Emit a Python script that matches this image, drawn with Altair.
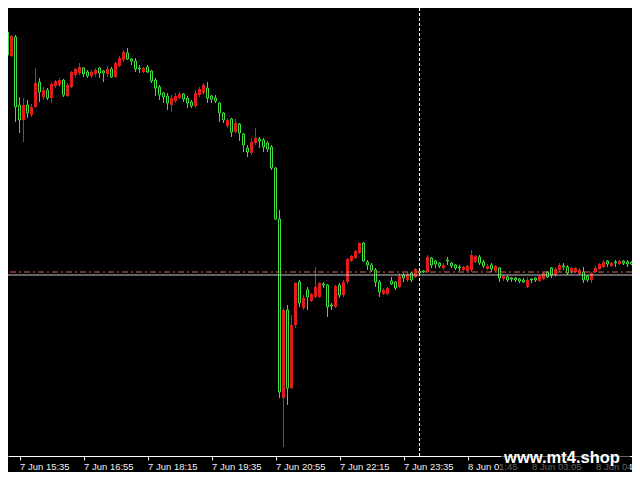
import json
import altair as alt
import pandas as pd

# OHLC of the 5-minute bars (oldest first)
OPEN = [1.14460, 1.14468, 1.14444, 1.14463, 1.14395, 1.14380, 1.14395, 1.14385, 1.14393, 1.14418,
        1.14403, 1.14410, 1.14402, 1.14414, 1.14415, 1.14420, 1.14404, 1.14413, 1.14425, 1.14427,
        1.14432, 1.14428, 1.14424, 1.14426, 1.14432, 1.14429, 1.14426, 1.14431, 1.14423, 1.14434,
        1.14440, 1.14447, 1.14441, 1.14439, 1.14432, 1.14428, 1.14433, 1.14429, 1.14420, 1.14413,
        1.14407, 1.14404, 1.14395, 1.14399, 1.14402, 1.14406, 1.14402, 1.14398, 1.14394, 1.14405,
        1.14407, 1.14412, 1.14404, 1.14402, 1.14397, 1.14387, 1.14374, 1.14381, 1.14368, 1.14376,
        1.14366, 1.14352, 1.14347, 1.14357, 1.14361, 1.14360, 1.14357, 1.14353, 1.14332, 1.14281,
        1.14102, 1.14190, 1.14112, 1.14175, 1.14218, 1.14192, 1.14210, 1.14199, 1.14203, 1.14203,
        1.14216, 1.14215, 1.14195, 1.14193, 1.14215, 1.14205, 1.14218, 1.14239, 1.14242, 1.14247,
        1.14257, 1.14238, 1.14235, 1.14230, 1.14218, 1.14206, 1.14206, 1.14219, 1.14218, 1.14213,
        1.14225, 1.14220, 1.14227, 1.14223, 1.14229, 1.14229, 1.14228, 1.14242, 1.14239, 1.14237,
        1.14232, 1.14240, 1.14237, 1.14235, 1.14233, 1.14230, 1.14229, 1.14230, 1.14238, 1.14243,
        1.14238, 1.14231, 1.14235, 1.14229, 1.14232, 1.14221, 1.14223, 1.14222, 1.14222, 1.14221,
        1.14220, 1.14213, 1.14221, 1.14222, 1.14219, 1.14221, 1.14228, 1.14232, 1.14225, 1.14230,
        1.14234, 1.14233, 1.14228, 1.14228, 1.14226, 1.14228, 1.14224, 1.14220, 1.14228, 1.14231,
        1.14233, 1.14239, 1.14234, 1.14238, 1.14236, 1.14239, 1.14238, 1.14238, 1.14236, 1.14239]

HIGH = [1.14469, 1.14469, 1.14465, 1.14465, 1.14403, 1.14402, 1.14400, 1.14396, 1.14432, 1.14422,
        1.14413, 1.14412, 1.14418, 1.14420, 1.14422, 1.14421, 1.14417, 1.14429, 1.14432, 1.14437,
        1.14433, 1.14430, 1.14430, 1.14432, 1.14433, 1.14430, 1.14434, 1.14433, 1.14438, 1.14444,
        1.14450, 1.14452, 1.14442, 1.14442, 1.14435, 1.14433, 1.14435, 1.14430, 1.14422, 1.14415,
        1.14408, 1.14407, 1.14405, 1.14407, 1.14408, 1.14407, 1.14404, 1.14400, 1.14410, 1.14413,
        1.14417, 1.14418, 1.14405, 1.14405, 1.14398, 1.14388, 1.14382, 1.14382, 1.14381, 1.14377,
        1.14367, 1.14355, 1.14362, 1.14372, 1.14363, 1.14362, 1.14359, 1.14355, 1.14333, 1.14290,
        1.14192, 1.14195, 1.14185, 1.14218, 1.14220, 1.14205, 1.14213, 1.14207, 1.14233, 1.14218,
        1.14218, 1.14216, 1.14197, 1.14215, 1.14217, 1.14220, 1.14242, 1.14245, 1.14250, 1.14258,
        1.14258, 1.14240, 1.14237, 1.14232, 1.14220, 1.14212, 1.14213, 1.14223, 1.14219, 1.14227,
        1.14227, 1.14228, 1.14228, 1.14232, 1.14230, 1.14230, 1.14245, 1.14243, 1.14240, 1.14238,
        1.14237, 1.14243, 1.14238, 1.14236, 1.14235, 1.14234, 1.14235, 1.14250, 1.14245, 1.14245,
        1.14240, 1.14236, 1.14237, 1.14235, 1.14233, 1.14225, 1.14225, 1.14223, 1.14223, 1.14222,
        1.14222, 1.14223, 1.14222, 1.14223, 1.14225, 1.14228, 1.14229, 1.14233, 1.14233, 1.14237,
        1.14237, 1.14235, 1.14233, 1.14233, 1.14232, 1.14233, 1.14225, 1.14228, 1.14234, 1.14237,
        1.14240, 1.14240, 1.14238, 1.14240, 1.14240, 1.14240, 1.14240, 1.14239, 1.14240, 1.14240]

LOW = [1.14459, 1.14439, 1.14443, 1.14378, 1.14367, 1.14358, 1.14382, 1.14383, 1.14392, 1.14398,
       1.14400, 1.14400, 1.14397, 1.14412, 1.14413, 1.14403, 1.14403, 1.14412, 1.14422, 1.14425,
       1.14423, 1.14422, 1.14422, 1.14423, 1.14422, 1.14418, 1.14423, 1.14422, 1.14422, 1.14433,
       1.14438, 1.14440, 1.14435, 1.14428, 1.14427, 1.14427, 1.14427, 1.14417, 1.14404, 1.14400,
       1.14397, 1.14390, 1.14388, 1.14397, 1.14401, 1.14398, 1.14392, 1.14392, 1.14392, 1.14403,
       1.14405, 1.14397, 1.14397, 1.14397, 1.14378, 1.14377, 1.14372, 1.14363, 1.14367, 1.14359,
       1.14348, 1.14343, 1.14345, 1.14355, 1.14352, 1.14348, 1.14348, 1.14330, 1.14280, 1.14102,
       1.14053, 1.14095, 1.14111, 1.14172, 1.14193, 1.14190, 1.14190, 1.14198, 1.14202, 1.14202,
       1.14212, 1.14183, 1.14190, 1.14192, 1.14202, 1.14203, 1.14216, 1.14238, 1.14241, 1.14246,
       1.14238, 1.14230, 1.14228, 1.14213, 1.14203, 1.14205, 1.14205, 1.14215, 1.14210, 1.14212,
       1.14218, 1.14218, 1.14218, 1.14222, 1.14225, 1.14227, 1.14227, 1.14232, 1.14232, 1.14232,
       1.14230, 1.14235, 1.14232, 1.14230, 1.14229, 1.14229, 1.14228, 1.14228, 1.14237, 1.14235,
       1.14232, 1.14230, 1.14228, 1.14228, 1.14218, 1.14219, 1.14218, 1.14218, 1.14218, 1.14217,
       1.14217, 1.14212, 1.14217, 1.14218, 1.14218, 1.14220, 1.14222, 1.14222, 1.14223, 1.14228,
       1.14230, 1.14225, 1.14226, 1.14227, 1.14225, 1.14217, 1.14218, 1.14217, 1.14227, 1.14230,
       1.14232, 1.14233, 1.14233, 1.14233, 1.14235, 1.14235, 1.14233, 1.14235, 1.14235, 1.14235]

CLOSE = [1.14468, 1.14445, 1.14464, 1.14393, 1.14380, 1.14395, 1.14387, 1.14393, 1.14417, 1.14408,
         1.14410, 1.14402, 1.14416, 1.14419, 1.14420, 1.14405, 1.14415, 1.14428, 1.14431, 1.14433,
         1.14426, 1.14424, 1.14428, 1.14430, 1.14427, 1.14427, 1.14431, 1.14423, 1.14437, 1.14442,
         1.14448, 1.14441, 1.14439, 1.14431, 1.14431, 1.14432, 1.14428, 1.14419, 1.14412, 1.14405,
         1.14403, 1.14397, 1.14402, 1.14404, 1.14406, 1.14401, 1.14397, 1.14394, 1.14407, 1.14411,
         1.14415, 1.14402, 1.14401, 1.14399, 1.14387, 1.14380, 1.14380, 1.14368, 1.14377, 1.14367,
         1.14355, 1.14348, 1.14358, 1.14362, 1.14359, 1.14353, 1.14351, 1.14332, 1.14281, 1.14108,
         1.14190, 1.14112, 1.14175, 1.14217, 1.14197, 1.14202, 1.14203, 1.14206, 1.14213, 1.14217,
         1.14215, 1.14193, 1.14194, 1.14214, 1.14205, 1.14218, 1.14241, 1.14244, 1.14249, 1.14257,
         1.14239, 1.14235, 1.14230, 1.14218, 1.14208, 1.14210, 1.14212, 1.14216, 1.14212, 1.14224,
         1.14222, 1.14226, 1.14220, 1.14231, 1.14227, 1.14228, 1.14243, 1.14235, 1.14236, 1.14234,
         1.14235, 1.14239, 1.14234, 1.14232, 1.14232, 1.14233, 1.14234, 1.14245, 1.14244, 1.14237,
         1.14234, 1.14234, 1.14231, 1.14234, 1.14222, 1.14224, 1.14220, 1.14221, 1.14220, 1.14219,
         1.14218, 1.14220, 1.14220, 1.14220, 1.14224, 1.14227, 1.14223, 1.14225, 1.14231, 1.14235,
         1.14233, 1.14227, 1.14232, 1.14232, 1.14230, 1.14220, 1.14220, 1.14227, 1.14232, 1.14236,
         1.14238, 1.14236, 1.14237, 1.14237, 1.14239, 1.14237, 1.14236, 1.14236, 1.14239, 1.14237]

TICK_BARS = [4, 20, 36, 52, 68, 84, 100, 116, 132, 148]
TICK_LABELS = ["7 Jun 15:35", "7 Jun 16:55", "7 Jun 18:15", "7 Jun 19:35", "7 Jun 20:55",
               "7 Jun 22:15", "7 Jun 23:35", "8 Jun 01:45", "8 Jun 03:05", "8 Jun 04:25"]
DAY_SEPARATOR_BAR = [104]
DASHED_LEVEL = [1.14228]
BID_LEVEL = [1.14225]
WATERMARK = ["www.mt4.shop"]

RED = "#e21c1c"
GREEN = "#3ee23e"

n = len(OPEN)
df = pd.DataFrame({"bar": list(range(n)), "open": OPEN, "high": HIGH,
                   "low": LOW, "close": CLOSE})
df["dir"] = ["up" if c > o else "down" for o, c in zip(OPEN, CLOSE)]

x_scale = alt.Scale(domain=[1.125, 157.125], nice=False, zero=False, padding=0)
y_scale = alt.Scale(domain=[1.14044, 1.14492], nice=False, zero=False, padding=0)

label_expr = f"{json.dumps(TICK_LABELS)}[indexof({json.dumps(TICK_BARS)}, datum.value)]"

x_axis = alt.Axis(values=TICK_BARS, labelExpr=label_expr, title=None, grid=False,
                  domainColor="#ffffff", domainWidth=1, tickColor="#ffffff",
                  tickSize=4, tickWidth=1, labelColor="#f0f0f0",
                  labelFont="Liberation Sans", labelFontSize=9.5,
                  labelAlign="left", labelBaseline="top", labelPadding=1.5,
                  labelFlush=False, labelOverlap=False)

base = alt.Chart(df)

wicks = base.mark_rule(strokeWidth=1, clip=True).encode(
    x=alt.X("bar:Q", scale=x_scale, axis=x_axis),
    y=alt.Y("low:Q", scale=y_scale, axis=None),
    y2="high:Q",
    color=alt.Color("dir:N", scale=alt.Scale(domain=["up", "down"], range=[RED, GREEN]),
                    legend=None),
)

down_bodies = base.transform_filter("datum.dir == 'down'").mark_bar(
    width=2, clip=True, fill="#000000", stroke=GREEN, strokeWidth=1
).encode(
    x=alt.X("bar:Q", scale=x_scale),
    y=alt.Y("open:Q", scale=y_scale),
    y2="close:Q",
)

up_bodies = base.transform_filter("datum.dir == 'up'").mark_bar(
    width=3, clip=True, color=RED
).encode(
    x=alt.X("bar:Q", scale=x_scale),
    y=alt.Y("open:Q", scale=y_scale),
    y2="close:Q",
)

separator = alt.Chart(pd.DataFrame({"bar": DAY_SEPARATOR_BAR})).mark_rule(
    color="#ffffff", strokeDash=[3, 2], strokeWidth=1
).encode(x=alt.X("bar:Q", scale=x_scale))

dashed_line = alt.Chart(pd.DataFrame({"price": DASHED_LEVEL})).mark_rule(
    color="#d06a50", strokeDash=[6, 3, 2, 3], strokeWidth=1
).encode(y=alt.Y("price:Q", scale=y_scale))

bid_line = alt.Chart(pd.DataFrame({"price": BID_LEVEL})).mark_rule(
    color="#c4c4c4", strokeWidth=1
).encode(y=alt.Y("price:Q", scale=y_scale))

wm = alt.Chart(pd.DataFrame({"t": WATERMARK}))
wm_box = wm.mark_rect(color="#000000", opacity=0.62).encode(
    x=alt.value(493), x2=alt.value(622), y=alt.value(438), y2=alt.value(463)
)
wm_text = wm.mark_text(font="Liberation Sans", fontWeight="bold", fontSize=16.5,
                       color="#ffffff", align="center", baseline="alphabetic").encode(
    x=alt.value(554), y=alt.value(455), text="t:N"
)

chart = alt.layer(
    wicks, down_bodies, up_bodies, separator, dashed_line, bid_line, wm_box, wm_text
).properties(
    width=624, height=448,
    autosize=alt.AutoSizeParams(type="none"),
    padding={"left": 0, "top": 0, "right": 0, "bottom": 16},
    background="#000000",
).configure_view(strokeWidth=0)

chart.save("out.html", embed_options={"renderer": "svg", "actions": False})
